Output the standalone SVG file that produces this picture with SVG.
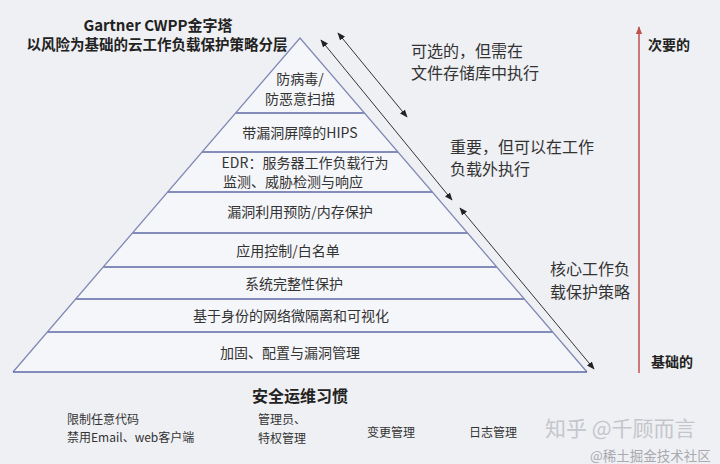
<svg xmlns="http://www.w3.org/2000/svg" width="720" height="464" viewBox="0 0 720 464">
<defs>
<marker id="ah" viewBox="0 0 10 10" refX="9" refY="5" markerWidth="8" markerHeight="8" orient="auto-start-reverse" markerUnits="userSpaceOnUse">
<path d="M0,1 L10,5 L0,9 Z" fill="#222"/>
</marker>
<marker id="rh" viewBox="0 0 10 10" refX="9" refY="5" markerWidth="8" markerHeight="8" orient="auto" markerUnits="userSpaceOnUse">
<path d="M0,1 L10,5 L0,9 Z" fill="#c0504d"/>
</marker>
<style>
.t{font-family:"Noto Sans CJK SC","Noto Sans",sans-serif;fill:#333;}
.lay{font-size:14px;text-anchor:middle;}
.b{font-weight:bold;fill:#222;}
.side{font-size:16px;}
.small{font-size:12px;}
.band{fill:#f5f6f9;stroke:none;}
.div{stroke:#5d68a6;stroke-width:1.6;}
.edge{stroke:#8088b6;stroke-width:1.3;fill:none;}
.arr{stroke:#333;stroke-width:1;fill:none;}
</style>
</defs>
<rect width="720" height="464" fill="#eff0f3"/>
<g id="title">
<text class="t b" x="158" y="31" font-size="15" text-anchor="middle">Gartner CWPP金字塔</text>
<text class="t b" x="157" y="50" font-size="14.5" text-anchor="middle">以风险为基础的云工作负载保护策略分层</text>
</g>
<g id="pyramid">
<polygon class="band" points="300,38 13,372 587,372"/>
<g id="layer1">
<text class="t lay" x="300" y="84" font-size="13.5">防病毒/</text>
<text class="t lay" x="300" y="104" font-size="13.5">防恶意扫描</text>
</g>
<g id="layer2">
<line class="div" x1="235.6" y1="113" x2="364.4" y2="113"/>
<text class="t lay" x="300" y="138">带漏洞屏障的HIPS</text>
</g>
<g id="layer3">
<line class="div" x1="202" y1="152" x2="398" y2="152"/>
<text class="t lay" x="305" y="168">EDR：服务器工作负载行为</text>
<text class="t lay" x="293" y="187">监测、威胁检测与响应</text>
</g>
<g id="layer4">
<line class="div" x1="167.7" y1="192" x2="432.3" y2="192"/>
<text class="t lay" x="300" y="217">漏洞利用预防/内存保护</text>
</g>
<g id="layer5">
<line class="div" x1="132.4" y1="233" x2="467.6" y2="233"/>
<text class="t lay" x="288" y="256">应用控制/白名单</text>
</g>
<g id="layer6">
<line class="div" x1="103.2" y1="267" x2="496.8" y2="267"/>
<text class="t lay" x="294" y="289">系统完整性保护</text>
</g>
<g id="layer7">
<line class="div" x1="75.7" y1="299" x2="524.3" y2="299"/>
<text class="t lay" x="291" y="321">基于身份的网络微隔离和可视化</text>
</g>
<g id="layer8">
<line class="div" x1="47.4" y1="332" x2="552.6" y2="332"/>
<text class="t lay" x="290" y="358">加固、配置与漏洞管理</text>
</g>
<polyline class="edge" points="13,372 300,38 587,372"/>
<line class="div" x1="13" y1="372" x2="587" y2="372"/>
</g>
<g id="connectors">
<line class="arr" x1="338" y1="33" x2="407" y2="117" marker-start="url(#ah)" marker-end="url(#ah)"/>
<line class="arr" x1="321" y1="40" x2="452" y2="200" marker-start="url(#ah)" marker-end="url(#ah)"/>
<line class="arr" x1="460" y1="208" x2="594" y2="369" marker-start="url(#ah)" marker-end="url(#ah)"/>
<line x1="639" y1="373" x2="639" y2="27" stroke="#c0504d" stroke-width="1.5" marker-end="url(#rh)"/>
</g>
<g id="labels-right">
<text class="t side" x="411" y="57">可选的，但需在</text>
<text class="t side" x="411" y="79">文件存储库中执行</text>
<text class="t side" x="450" y="153">重要，但可以在工作</text>
<text class="t side" x="450" y="175">负载外执行</text>
<text class="t side" x="550" y="275">核心工作负</text>
<text class="t side" x="550" y="298">载保护策略</text>
<text class="t b" x="648" y="50" font-size="14">次要的</text>
<text class="t b" x="651" y="367" font-size="14">基础的</text>
</g>
<g id="habits">
<text class="t b" x="300" y="402" font-size="16" text-anchor="middle">安全运维习惯</text>
<text class="t small" x="67" y="424">限制任意代码</text>
<text class="t small" x="67" y="442">禁用Email、web客户端</text>
<text class="t small" x="258" y="424">管理员、</text>
<text class="t small" x="258" y="443">特权管理</text>
<text class="t small" x="367" y="437">变更管理</text>
<text class="t small" x="469" y="437">日志管理</text>
</g>
<g id="watermark">
<text x="545" y="436" font-size="21" font-family="Noto Sans CJK SC,sans-serif" fill="#c4c6cc">知乎 @千顾而言</text>
<text x="590" y="461" font-size="13.5" font-family="Noto Sans CJK SC,serif" fill="#a8aab0">@稀土掘金技术社区</text>
</g>
</svg>
